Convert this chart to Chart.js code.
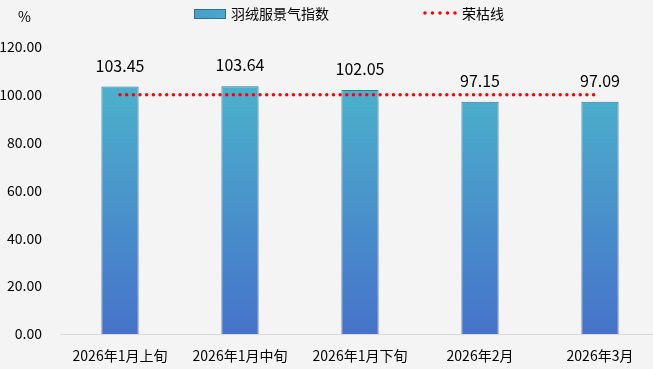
<!DOCTYPE html>
<html>
<head>
<meta charset="utf-8">
<script src="https://cdn.jsdelivr.net/npm/chart.js@4.4.1/dist/chart.umd.min.js"></script>
<style>
  html, body { margin: 0; padding: 0; background: #f4f4f4; overflow: hidden; }
  #wrap { width: 660px; height: 369px; position: relative; }
</style>
</head>
<body>
<div id="wrap"><canvas id="chart"></canvas></div>
<script>
// données
const categories = ['2026年1月上旬', '2026年1月中旬', '2026年1月下旬', '2026年2月', '2026年3月']
const indexValues = [103.45, 103.64, 102.05, 97.15, 97.09]
const thresholdValues = [100, 100, 100, 100, 100]
const seriesNames = ['羽绒服景气指数', '荣枯线']
const yTicks = [0, 20, 40, 60, 80, 100, 120]

const FONT = '"Noto Sans CJK SC", "Noto Sans", sans-serif'

// dégradé vertical (remplissage ou bordure des barres)
function verticalGradient(top, bottom) {
  return (context) => {
    const chart = context.chart
    const { ctx, chartArea, scales } = chart
    if (!chartArea) return bottom
    const g = ctx.createLinearGradient(0, scales.y.getPixelForValue(104), 0, chartArea.bottom)
    g.addColorStop(0, top)
    g.addColorStop(1, bottom)
    return g
  }
}

// légende dessinée à la main (espacement non standard)
const customLegend = {
  id: 'customLegend',
  afterDraw(chart) {
    const ctx = chart.ctx
    ctx.save()
    ctx.font = '14px ' + FONT
    ctx.textBaseline = 'middle'
    ctx.fillStyle = '#000'
    // unité
    ctx.fillText('%', 18, 17)
    // série barres
    const g = ctx.createLinearGradient(194, 0, 226, 0)
    g.addColorStop(0, '#4a9dcc')
    g.addColorStop(1, '#47aacb')
    ctx.fillStyle = g
    ctx.fillRect(194, 9, 32, 10)
    ctx.strokeStyle = '#2f6f9e'
    ctx.lineWidth = 1
    ctx.strokeRect(194.5, 9.5, 31, 9)
    ctx.fillStyle = '#000'
    ctx.fillText(chart.data.datasets[0].label, 231, 14)
    // série ligne
    ctx.strokeStyle = '#ff0000'
    ctx.lineWidth = 3.5
    ctx.lineCap = 'round'
    ctx.setLineDash([0, 7.5])
    ctx.beginPath()
    ctx.moveTo(425, 13)
    ctx.lineTo(456, 13)
    ctx.stroke()
    ctx.setLineDash([])
    ctx.fillText(chart.data.datasets[1].label, 462, 14)
    ctx.restore()
  }
}

// valeurs au-dessus des barres
const barLabels = {
  id: 'barLabels',
  afterDatasetsDraw(chart) {
    const ctx = chart.ctx
    const meta = chart.getDatasetMeta(0)
    ctx.save()
    ctx.font = '16px ' + FONT
    ctx.fillStyle = '#000'
    ctx.textAlign = 'center'
    ctx.textBaseline = 'middle'
    meta.data.forEach((bar, i) => {
      ctx.fillText(indexValues[i].toFixed(2), bar.x, bar.y - 21)
    })
    ctx.restore()
  }
}

new Chart(document.getElementById('chart'), {
  data: {
    labels: categories,
    datasets: [
      {
        type: 'bar',
        label: seriesNames[0],
        data: indexValues,
        backgroundColor: verticalGradient('#4bb1cb', '#4673ca'),
        borderColor: verticalGradient('#2a7f9c', '#3559a8'),
        borderWidth: 1,
        barPercentage: 0.31,
        categoryPercentage: 1,
        order: 2
      },
      {
        type: 'line',
        label: seriesNames[1],
        data: thresholdValues,
        borderColor: '#ff0000',
        borderWidth: 3.5,
        borderDash: [0, 6.67],
        borderCapStyle: 'round',
        pointRadius: 0,
        fill: false,
        order: 1
      }
    ]
  },
  options: {
    responsive: true,
    maintainAspectRatio: false,
    animation: false,
    layout: {
      padding: { top: 47, right: 0, bottom: 0, left: 0 }
    },
    plugins: {
      legend: { display: false },
      tooltip: { enabled: false }
    },
    scales: {
      x: {
        grid: { display: false },
        border: { display: true, color: '#d9d9d9', width: 1 },
        ticks: {
          color: '#000',
          padding: 5,
          maxRotation: 0,
          font: { family: FONT, size: 14 }
        },
        afterFit: (scale) => { scale.height = 35 }
      },
      y: {
        min: 0,
        max: 120,
        grid: { display: false },
        border: { display: false },
        afterBuildTicks: (scale) => {
          scale.ticks = yTicks.map((v) => ({ value: v }))
        },
        ticks: {
          color: '#000',
          padding: 10,
          font: { family: FONT, size: 14 },
          callback: (val) => Number(val).toFixed(2)
        },
        afterFit: (scale) => { scale.width = 60 }
      }
    }
  },
  plugins: [barLabels, customLegend]
})
</script>
</body>
</html>
